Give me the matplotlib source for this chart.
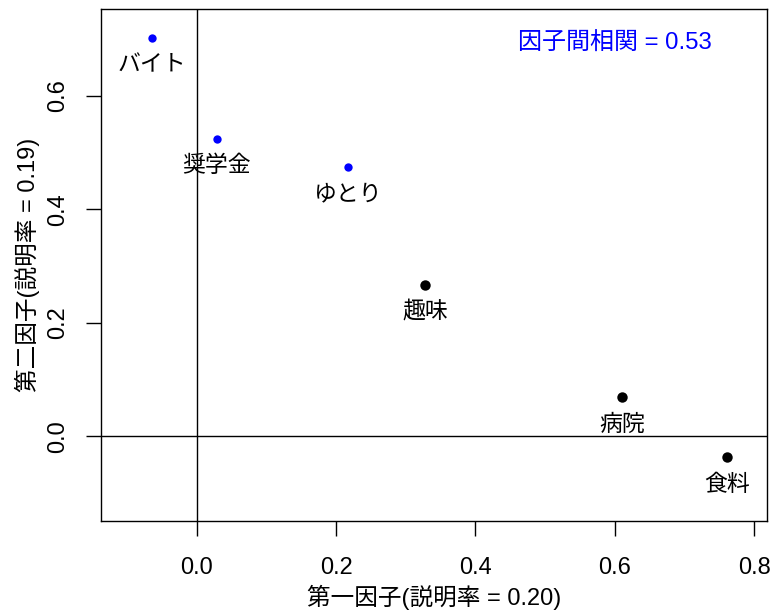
import numpy as np
import matplotlib as mpl
mpl.use("Agg")
import matplotlib.pyplot as plt

mpl.rcParams['font.family'] = ['Liberation Sans', 'Noto Sans CJK JP']
mpl.rcParams['font.size'] = 17

# factor loadings
items  = ["バイト", "奨学金", "ゆとり", "趣味", "病院", "食料"]
factor1 = [-0.064, 0.029, 0.217, 0.328, 0.610, 0.760]
factor2 = [0.702, 0.524, 0.475, 0.267, 0.069, -0.037]
groups  = [2, 2, 2, 1, 1, 1]   # 2 = second factor (blue), 1 = first factor (black)

xticks = [0.0, 0.2, 0.4, 0.6, 0.8]
yticks = [0.0, 0.2, 0.4, 0.6]

fig = plt.figure(figsize=(7.73, 6.12), dpi=100)
ax = fig.add_axes([101/773, 91/612, 666/773, 512/612])

ax.axhline(0, color='black', lw=1.0, zorder=1)
ax.axvline(0, color='black', lw=1.0, zorder=1)

for name, x, y, g in zip(items, factor1, factor2, groups):
    if g == 2:
        ax.plot(x, y, 'o', color='blue', ms=6, mec='none', zorder=3)
    else:
        ax.plot(x, y, 'o', color='black', ms=7.5, mec='none', zorder=3)
    ax.annotate(name, (x, y), xytext=(0, -19.5), textcoords='offset points',
                ha='center', va='center', fontsize=16.5)

ax.text(0.6, 0.691, "因子間相関 = 0.53", color='blue', ha='center', va='center',
        fontsize=17.3)

ax.set_xlim(-0.137, 0.818)
ax.set_ylim(-0.1495, 0.753)
ax.set_xticks(xticks)
ax.set_yticks(yticks)
ax.set_xticklabels(['%.1f' % v for v in xticks])
ax.set_yticklabels(['%.1f' % v for v in yticks], rotation=90, va='center')
ax.tick_params(length=11, width=1.0, labelsize=17)
ax.tick_params(axis='x', pad=15)
ax.tick_params(axis='y', pad=12)

for s in ax.spines.values():
    s.set_linewidth(1.0)

ax.set_xlabel("第一因子(説明率 = 0.20)", fontsize=17, labelpad=4)
ax.set_ylabel("第二因子(説明率 = 0.19)", fontsize=17, labelpad=5)

fig.savefig('out.png', dpi=100)
